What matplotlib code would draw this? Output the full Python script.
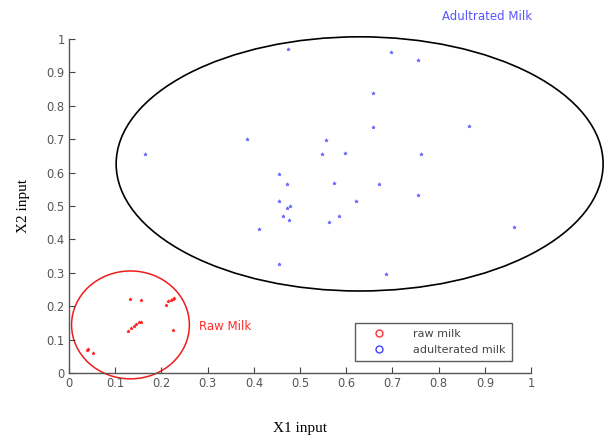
import matplotlib.pyplot as plt
from matplotlib.patches import Ellipse
from matplotlib.lines import Line2D

# raw milk samples
raw_x1 = [0.038, 0.042, 0.051, 0.127, 0.135, 0.141, 0.146, 0.151, 0.155,
          0.131, 0.156, 0.210, 0.215, 0.220, 0.225, 0.228, 0.224]
raw_x2 = [0.069, 0.071, 0.059, 0.126, 0.135, 0.140, 0.146, 0.152, 0.154,
          0.222, 0.219, 0.204, 0.215, 0.220, 0.222, 0.224, 0.129]

# adulterated milk samples
adu_x1 = [0.165, 0.385, 0.556, 0.547, 0.597, 0.455, 0.471, 0.574, 0.455, 0.478,
          0.471, 0.464, 0.476, 0.585, 0.563, 0.411, 0.455, 0.475, 0.696, 0.755,
          0.659, 0.659, 0.866, 0.762, 0.671, 0.755, 0.622, 0.964, 0.687]
adu_x2 = [0.656, 0.700, 0.697, 0.656, 0.659, 0.596, 0.567, 0.570, 0.514, 0.501,
          0.493, 0.470, 0.458, 0.470, 0.452, 0.432, 0.325, 0.970, 0.961, 0.937,
          0.837, 0.737, 0.740, 0.655, 0.567, 0.534, 0.514, 0.437, 0.296]

# cluster boundaries (center x, center y, width, height)
raw_boundary = (0.133, 0.144, 0.255, 0.323)
adu_boundary = (0.629, 0.626, 1.054, 0.761)

fig = plt.figure(figsize=(6.06, 4.38), dpi=100)
ax = fig.add_axes([0.1139, 0.1484, 0.7624, 0.7626])

ax.plot(raw_x1, raw_x2, '*', color='#ff2020', ms=2.4, mew=0.5)
ax.plot(adu_x1, adu_x2, '*', color='#6a6aff', ms=2.6, mew=0.5)

cx, cy, w, h = raw_boundary
ax.add_patch(Ellipse((cx, cy), w, h, fill=False, ec='#ee1c1c', lw=1.1, clip_on=False))
cx, cy, w, h = adu_boundary
ax.add_patch(Ellipse((cx, cy), w, h, fill=False, ec='black', lw=1.2, clip_on=False))

ax.text(0.807, 1.066, 'Adultrated Milk', color='#5555ff', fontsize=8.5, va='center')
ax.text(0.281, 0.138, 'Raw Milk', color='#ff2a2a', fontsize=8.5, va='center')

ax.set_xlim(0, 1)
ax.set_ylim(0, 1)
ax.set_xticks([i / 10 for i in range(11)])
ax.set_yticks([i / 10 for i in range(11)])
ax.set_xticklabels(['0', '0.1', '0.2', '0.3', '0.4', '0.5', '0.6', '0.7', '0.8', '0.9', '1'])
ax.set_yticklabels(['0', '0.1', '0.2', '0.3', '0.4', '0.5', '0.6', '0.7', '0.8', '0.9', '1'])
ax.tick_params(direction='in', length=4, width=0.8, colors='#444444', labelsize=8.3,
               labelcolor='#555555', pad=3)
ax.spines['top'].set_visible(False)
ax.spines['right'].set_visible(False)
for s in ['left', 'bottom']:
    ax.spines[s].set_color('#555555')
    ax.spines[s].set_linewidth(1.0)

ax.set_xlabel('X1 input', family='Liberation Serif', fontsize=11, labelpad=23)
ax.set_ylabel('X2 input', family='Liberation Serif', fontsize=11, labelpad=12)

handles = [Line2D([], [], ls='none', marker='o', mfc='none', mec='#ff3030', ms=5, mew=1),
           Line2D([], [], ls='none', marker='o', mfc='none', mec='#4040ff', ms=5, mew=1)]
leg = ax.legend(handles, ['raw milk', 'adulterated milk'], loc='lower left',
                bbox_to_anchor=(0.619, 0.035), fontsize=8, frameon=True, fancybox=False,
                edgecolor='#333333', handletextpad=1.5, borderpad=0.55, labelspacing=0.55,
                handlelength=3.2, borderaxespad=0)
leg.get_frame().set_linewidth(1.0)
for t in leg.get_texts():
    t.set_color('#444444')

fig.savefig('out.png', dpi=100)
